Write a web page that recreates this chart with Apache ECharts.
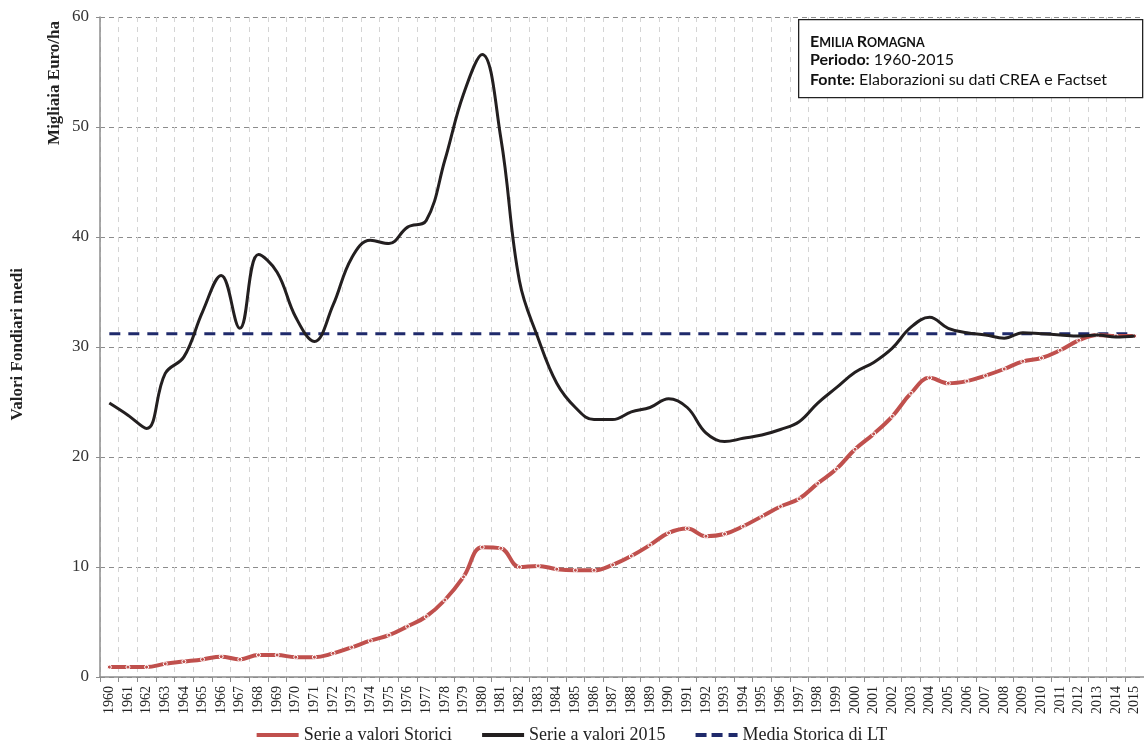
<!DOCTYPE html>
<html>
<head>
<meta charset="utf-8">
<script src="https://cdn.jsdelivr.net/npm/echarts@6/dist/echarts.min.js"></script>
<style>
  html, body { margin: 0; padding: 0; background: #fff; }
  #main { width: 1144px; height: 751px; }
</style>
</head>
<body>
<div id="main"></div>
<script>
// anni
var anni = [];
for (var a = 1960; a <= 2015; a++) anni.push(String(a));

// Serie a valori Storici (migliaia euro/ha)
var storici = [
  0.9, 0.9, 0.9, 1.2, 1.4, 1.6, 1.85, 1.6, 2.0, 2.0,
  1.8, 1.8, 2.15, 2.7, 3.3, 3.8, 4.6, 5.5, 7.0, 9.1,
  11.8, 11.7, 10.0, 10.1, 9.8, 9.7, 9.7, 10.2, 11.0, 12.0,
  13.1, 13.5, 12.8, 13.0, 13.7, 14.6, 15.5, 16.2, 17.6, 18.9,
  20.7, 22.1, 23.7, 25.8, 27.2, 26.7, 26.9, 27.4, 28.0, 28.7,
  29.0, 29.7, 30.6, 31.1, 31.0, 31.0
];

// Serie a valori 2015
var valori2015 = [
  24.9, 23.8, 22.6, 27.6, 29.1, 33.2, 36.5, 31.7, 38.4, 36.8,
  32.7, 30.5, 33.8, 38.1, 39.7, 39.4, 40.9, 41.5, 47.0, 53.0,
  56.6, 49.0, 36.0, 30.8, 26.7, 24.5, 23.4, 23.4, 24.1, 24.5,
  25.3, 24.5, 22.2, 21.4, 21.7, 22.0, 22.5, 23.2, 24.9, 26.3,
  27.7, 28.6, 29.9, 31.8, 32.7, 31.7, 31.3, 31.1, 30.8, 31.3,
  31.2, 31.1, 31.0, 31.1, 30.9, 31.0
];

// Media Storica di LT
var mediaLT = 31.2;
var media = anni.map(function () { return mediaLT; });

var serif = '"Liberation Serif", "DejaVu Serif", serif';
var sans = 'Lato, "Open Sans", sans-serif';

var myChart = echarts.init(document.getElementById('main'));

var option = {
  animation: false,
  grid: { left: 100, right: 0, top: 17, bottom: 74, containLabel: false },
  legend: {
    bottom: 2,
    left: 'center',
    itemWidth: 42,
    itemHeight: 4,
    itemGap: 30,
    textStyle: { fontFamily: serif, fontSize: 18, color: '#222' },
    data: [
      { name: 'Serie a valori Storici', icon: 'rect', itemStyle: { color: '#c0504d', borderWidth: 0 } },
      { name: 'Serie a valori 2015', icon: 'rect' },
      { name: 'Media Storica di LT', icon: 'path://M0,0h11v4h-11z M16,0h11v4h-11z M33,0h9v4h-9z' }
    ]
  },
  xAxis: {
    type: 'category',
    data: anni,
    boundaryGap: true,
    axisLine: { lineStyle: { color: '#8c8c8c', width: 1.5 } },
    axisTick: { show: true, length: 5, lineStyle: { color: '#8c8c8c' } },
    axisLabel: {
      interval: 0, rotate: 90, fontFamily: serif, fontSize: 14, color: '#222', margin: 9
    },
    splitLine: { show: true, lineStyle: { color: '#d4d4d4', type: [5, 5] } }
  },
  yAxis: {
    type: 'value',
    min: 0, max: 60, interval: 10,
    axisLine: { show: true, lineStyle: { color: '#8c8c8c', width: 1.5 } },
    axisTick: { show: true, length: 4, lineStyle: { color: '#8c8c8c' } },
    axisLabel: { fontFamily: serif, fontSize: 17, color: '#333', margin: 11 },
    splitLine: { show: true, lineStyle: { color: '#8c8c8c', type: [5, 4] } }
  },
  graphic: [
    {
      type: 'text', left: 46, top: 21, rotation: Math.PI / 2,
      style: { text: 'Migliaia Euro/ha', font: 'bold 17px ' + serif, fill: '#222' }
    },
    {
      type: 'text', left: 9, top: 268, rotation: Math.PI / 2,
      style: { text: 'Valori Fondiari medi', font: 'bold 17px ' + serif, fill: '#222' }
    },
    {
      type: 'rect', left: 798, top: 19,
      shape: { width: 344, height: 78 },
      style: { fill: '#fff', stroke: '#222', lineWidth: 1.3 },
      z: 100
    },
    {
      type: 'text', left: 810, top: 30, z: 101,
      style: {
        text: '{b|E}{s|MILIA }{b|R}{s|OMAGNA}\n{h|Periodo:}{n| 1960-2015}\n{h|Fonte:}{n| Elaborazioni su dati CREA e Factset}',
        lineHeight: 20,
        rich: {
          b: { font: 'bold 16px ' + sans, fill: '#111', lineHeight: 20, verticalAlign: 'bottom' },
          s: { font: 'bold 12.5px ' + sans, fill: '#111', lineHeight: 20, verticalAlign: 'bottom', padding: [0, 0, 1, 0] },
          h: { font: 'bold 16px ' + sans, fill: '#111', lineHeight: 20 },
          n: { font: '16px ' + sans, fill: '#111', lineHeight: 20 }
        }
      }
    }
  ],
  series: [
    {
      name: 'Serie a valori Storici',
      type: 'line',
      data: storici,
      smooth: 0.4,
      symbol: 'circle',
      symbolSize: 4,
      showSymbol: true,
      itemStyle: { color: '#c0504d', borderColor: '#fff', borderWidth: 1 },
      lineStyle: { color: '#c0504d', width: 4 },
      z: 3
    },
    {
      name: 'Serie a valori 2015',
      type: 'line',
      data: valori2015,
      smooth: 0.4,
      symbol: 'none',
      itemStyle: { color: '#231f20' },
      lineStyle: { color: '#231f20', width: 3 },
      z: 4
    },
    {
      name: 'Media Storica di LT',
      type: 'line',
      data: media,
      symbol: 'none',
      itemStyle: { color: '#1f2a6b' },
      lineStyle: { color: '#1f2a6b', width: 3, type: [11, 8] },
      z: 2
    }
  ]
};

myChart.setOption(option);
</script>
</body>
</html>
